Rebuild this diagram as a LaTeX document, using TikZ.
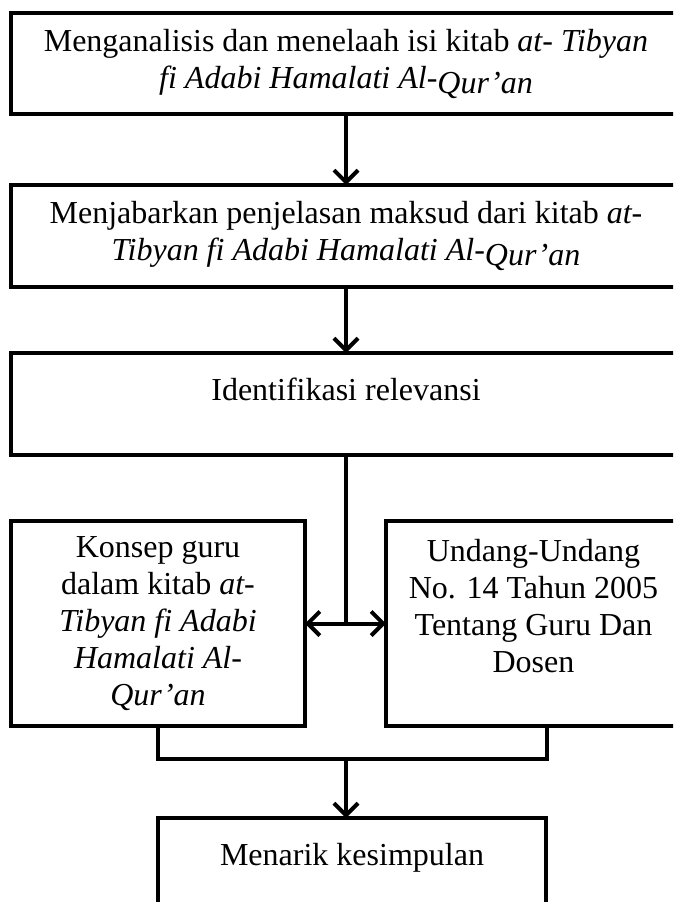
\documentclass[tikz,border=0pt]{standalone}
\usepackage{fontspec}
\setmainfont{Liberation Serif}
\usetikzlibrary{positioning,arrows.meta}

\tikzset{
  stage/.style={draw, rectangle, line width=4pt, align=center, inner sep=0pt,
    outer sep=0pt, font=\fontsize{32}{37}\selectfont},
  raised/.style={text depth=29pt},
  link/.style={line width=4pt},
  flow/.style={line width=4pt, -{Straight Barb[length=12pt,width=24pt]}},
  both/.style={line width=4pt, {Straight Barb[length=12pt,width=24pt]}-{Straight Barb[length=12pt,width=24pt]}}
}

\begin{document}
\begin{tikzpicture}[x=1pt,y=1pt]
        \path[use as bounding box, clip] (0,0) rectangle (673,-902);

        \node[stage, minimum width=670pt, minimum height=101pt] (A) at (346,-63.5)
        {Menganalisis dan menelaah isi kitab \textit{at- Tibyan}\\
        \textit{fi Adabi Hamalati Al-}\raisebox{-5pt}{\textit{Qur’an}}};

        \node[stage, below=71pt of A, minimum width=670pt, minimum height=102pt] (B)
        {Menjabarkan penjelasan maksud dari kitab \textit{at-}\\
        \textit{Tibyan fi Adabi Hamalati Al-}\raisebox{-5pt}{\textit{Qur’an}}};

        \node[stage, raised, below=66pt of B, minimum width=670pt,
        minimum height=102pt] (C) {Identifikasi relevansi};

        \node[stage, below=66pt of C.south west, anchor=north west,
        minimum width=294pt, minimum height=205pt] (konsep)
        {Konsep guru\\ dalam kitab \textit{at-}\\ \textit{Tibyan fi Adabi}\\
        \textit{Hamalati Al-}\\ \textit{Qur’an}};

        \node[stage, below=66pt of C.south east, anchor=north east,
        minimum width=295pt, minimum height=205pt] (uu)
        {Undang-Undang\\ No. 14 Tahun 2005\\ Tentang Guru Dan\\ Dosen\\[-12pt]\strut};

        \node[stage, raised, below=92pt of konsep.south, anchor=north west,
        minimum width=388pt, minimum height=102pt] (D) {Menarik kesimpulan};

        \coordinate[below=33pt of konsep.south] (merge);
        \coordinate (drop) at (merge -| C.south);

        \draw[flow] (A) -- (B);
        \draw[flow] (B) -- (C);
        \draw[link] (C.south) -- (C.south |- konsep.east);
        \draw[both] (konsep.east) -- (uu.west);
        \draw[link] (konsep.south) -- (merge) -| ([xshift=13.5pt]uu.south);
        \draw[flow] (drop) -- (drop |- D.north);
      \end{tikzpicture}
\end{document}
